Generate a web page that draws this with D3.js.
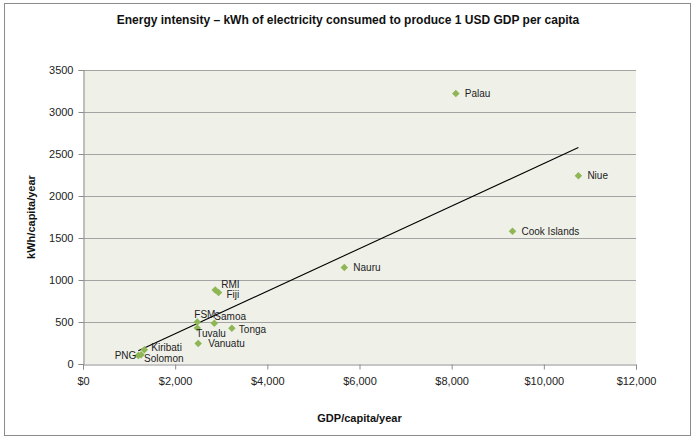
<!DOCTYPE html>
<html>
<head>
<meta charset="utf-8">
<script src="https://cdn.jsdelivr.net/npm/d3@7"></script>
<style>
  body { margin: 0; background: #fff; }
  svg { display: block; font-family: "Liberation Sans", Arial, sans-serif; }
</style>
</head>
<body>
<div id="chart"></div>
<script>
// data
var countries = ["Palau", "Niue", "Cook Islands", "Nauru", "RMI", "Fiji", "FSM", "Samoa",
                 "Tuvalu", "Tonga", "Vanuatu", "Kiribati", "PNG", "Solomon"];
var gdp = [8090, 10750, 9320, 5670, 2870, 2940, 2480, 2850, 2480, 3230, 2500, 1330, 1200, 1260];
var kwh = [3220, 2240, 1580, 1150, 880, 850, 500, 485, 430, 425, 245, 170, 100, 110];
var xTicks = [0, 2000, 4000, 6000, 8000, 10000, 12000];
var yTicks = [0, 500, 1000, 1500, 2000, 2500, 3000, 3500];

// label placement (px offsets from the marker)
var labelOffset = {
  "PNG": [-2, 0, "end"], "Solomon": [3, 4, "start"], "Kiribati": [7, -2, "start"],
  "RMI": [6, -6, "start"], "Fiji": [8, 2, "start"], "FSM": [-3, -8, "start"],
  "Samoa": [0, -7, "start"], "Tuvalu": [-1, 6, "start"], "Tonga": [7, 1, "start"],
  "Vanuatu": [10, 0, "start"]
};

var width = 695, height = 440;
var margin = {left: 83, right: 59, top: 70, bottom: 76};

var svg = d3.select("#chart").append("svg")
  .attr("width", width).attr("height", height);

svg.append("rect")
  .attr("x", 4.5).attr("y", 3.5).attr("width", 686).attr("height", 432)
  .attr("fill", "#fff").attr("stroke", "#8c8c8c");

var x = d3.scaleLinear().domain([0, 12000]).range([margin.left, width - margin.right]);
var y = d3.scaleLinear().domain([0, 3500]).range([height - margin.bottom, margin.top]);

// plot area
svg.append("rect")
  .attr("x", x(0)).attr("y", y(3500))
  .attr("width", x(12000) - x(0)).attr("height", y(0) - y(3500))
  .attr("fill", "#eff1e9");

// gridlines
svg.append("g").selectAll("line")
  .data(yTicks.filter(function (d) { return d > 0; }))
  .enter().append("line")
  .attr("x1", x(0)).attr("x2", x(12000))
  .attr("y1", function (d) { return Math.round(y(d)) + 0.5; })
  .attr("y2", function (d) { return Math.round(y(d)) + 0.5; })
  .attr("stroke", "#a3a3a3").attr("stroke-width", 1.2);

// axes
var yAxis = svg.append("g")
  .attr("transform", "translate(" + (x(0) + 0.5) + ",0)")
  .call(d3.axisLeft(y).tickValues(yTicks).tickSize(5).tickPadding(5).tickFormat(d3.format("d")));
var xAxis = svg.append("g")
  .attr("transform", "translate(0," + (y(0) + 0.5) + ")")
  .call(d3.axisBottom(x).tickValues(xTicks).tickSize(5).tickPadding(8)
    .tickFormat(function (d) { return "$" + d3.format(",")(d); }));

[xAxis, yAxis].forEach(function (a) {
  a.select(".domain").attr("stroke", "#8c8c8c");
  a.selectAll(".tick line").attr("stroke", "#8c8c8c");
  a.selectAll(".tick text").attr("fill", "#222").style("font-size", "11px")
    .style("font-family", "Liberation Sans, Arial, sans-serif");
});

// trend line (least squares on the points)
var mx = d3.mean(gdp), my = d3.mean(kwh);
var sxy = d3.sum(gdp, function (g, i) { return (g - mx) * (kwh[i] - my); });
var sxx = d3.sum(gdp, function (g) { return (g - mx) * (g - mx); });
var slope = sxy / sxx, icpt = my - slope * mx;
var x0 = d3.min(gdp), x1 = d3.max(gdp);
svg.append("line")
  .attr("x1", x(x0)).attr("y1", y(icpt + slope * x0))
  .attr("x2", x(x1)).attr("y2", y(icpt + slope * x1))
  .attr("stroke", "#000").attr("stroke-width", 1.1);

// points - excel style diamond (square turned 45deg)
var pts = countries.map(function (c, i) { return {name: c, gx: gdp[i], ky: kwh[i]}; });
svg.append("g").selectAll("path")
  .data(pts).enter().append("path")
  .attr("d", d3.symbol().type(d3.symbolSquare).size(28))
  .attr("transform", function (d) { return "translate(" + x(d.gx) + "," + y(d.ky) + ") rotate(45)"; })
  .attr("fill", "#8fb654");

svg.append("g").selectAll("text")
  .data(pts).enter().append("text")
  .attr("x", function (d) { var o = labelOffset[d.name] || [9, 0]; return x(d.gx) + o[0]; })
  .attr("y", function (d) { var o = labelOffset[d.name] || [9, 0]; return y(d.ky) + o[1]; })
  .attr("dy", "0.35em")
  .attr("text-anchor", function (d) { var o = labelOffset[d.name]; return o ? o[2] : "start"; })
  .attr("fill", "#222").style("font-size", "10px")
  .text(function (d) { return d.name; });

// titles
svg.append("text")
  .attr("x", 348).attr("y", 24).attr("text-anchor", "middle")
  .style("font-size", "12px").style("font-weight", "bold").attr("fill", "#111")
  .text("Energy intensity \u2013 kWh of  electricity consumed to produce 1 USD GDP per capita");

svg.append("text")
  .attr("x", (x(0) + x(12000)) / 2).attr("y", 422).attr("text-anchor", "middle")
  .style("font-size", "11px").style("font-weight", "bold").attr("fill", "#111")
  .text("GDP/capita/year");

svg.append("text")
  .attr("transform", "translate(35," + ((y(0) + y(3500)) / 2) + ") rotate(-90)")
  .attr("text-anchor", "middle")
  .style("font-size", "11px").style("font-weight", "bold").attr("fill", "#111")
  .text("kWh/capita/year");
</script>
</body>
</html>
